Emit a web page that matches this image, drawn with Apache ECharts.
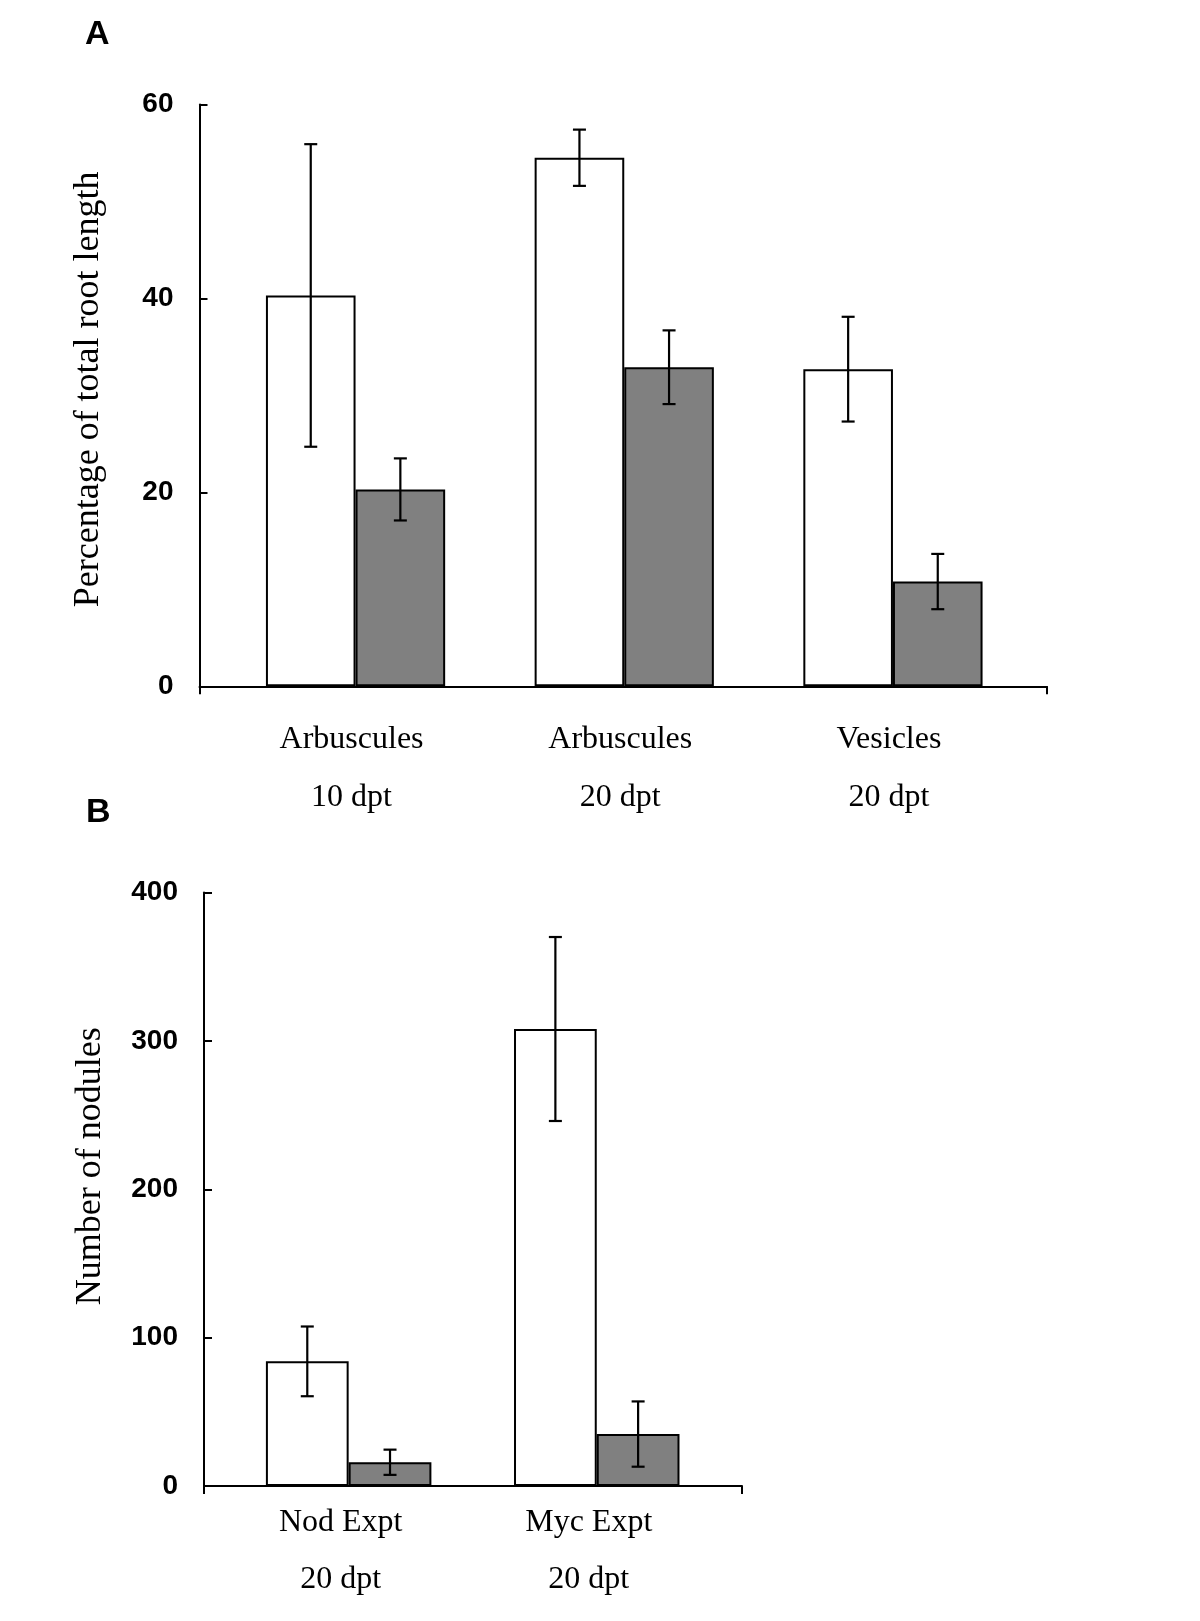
<!DOCTYPE html>
<html><head><meta charset="utf-8">
<script src="https://cdn.jsdelivr.net/npm/echarts@6/dist/echarts.min.js"></script>
<style>html,body{margin:0;padding:0;background:#fff}#c{width:1200px;height:1621px}</style>
</head><body><div id="c"></div>
<script>
// Panel A data
const catA = ['Arbuscules\n10 dpt', 'Arbuscules\n20 dpt', 'Vesicles\n20 dpt'];
const whiteA = [40.3, 54.5, 32.7];
const whiteAErr = [15.6, 2.9, 5.4];
const grayA = [20.3, 32.9, 10.8];
const grayAErr = [3.2, 3.8, 2.85];
const yTicksA = { min: 0, max: 60, interval: 20 };
// Panel B data
const catB = ['Nod Expt\n20 dpt', 'Myc Expt\n20 dpt'];
const whiteB = [84, 308];
const whiteBErr = [23.5, 62];
const grayB = [16, 35];
const grayBErr = [8.5, 22];
const yTicksB = { min: 0, max: 400, interval: 100 };

const GAP = 0.333;
const SANS = 'Liberation Sans, Arial, sans-serif';
const SERIF = 'Liberation Serif, Times New Roman, serif';

function errRender(side) {
  return function (params, api) {
    const ci = api.value(0), v = api.value(1), e = api.value(2);
    const band = api.size([1, 0])[0];
    const bw = band * (1 - GAP) / 2;
    const c = api.coord([ci, v]);
    const x = c[0] + side * bw / 2;
    const top = api.coord([ci, v + e])[1];
    const bot = api.coord([ci, v - e])[1];
    const h = 6.5;
    const st = { stroke: '#000', lineWidth: 2.2 };
    return { type: 'group', children: [
      { type: 'line', shape: { x1: x, y1: top, x2: x, y2: bot }, style: st },
      { type: 'line', shape: { x1: x - h, y1: top, x2: x + h, y2: top }, style: st },
      { type: 'line', shape: { x1: x - h, y1: bot, x2: x + h, y2: bot }, style: st }
    ] };
  };
}
function errData(vals, errs) { return vals.map((v, i) => [i, v, errs[i]]); }

const axisLineStyle = { color: '#000', width: 2 };

function wideAxes(gi, ticks, name, nameGap, namePad) {
  return {
    x: { type: 'value', gridIndex: gi, min: 0, max: 1, interval: 1,
      axisLine: { show: true, lineStyle: axisLineStyle },
      axisTick: { show: true, inside: false, length: 8, lineStyle: axisLineStyle },
      axisLabel: { show: false }, splitLine: { show: false } },
    y: { type: 'value', gridIndex: gi, min: ticks.min, max: ticks.max, interval: ticks.interval,
      axisLine: { show: true, lineStyle: axisLineStyle },
      axisTick: { show: true, inside: true, length: 8, lineStyle: axisLineStyle },
      axisLabel: { color: '#000', fontFamily: SANS, fontWeight: 'bold', fontSize: 28, margin: 26 },
      splitLine: { show: false },
      name: name, nameLocation: 'middle', nameGap: nameGap,
      nameTextStyle: { color: '#000', fontFamily: SERIF, fontSize: 36, padding: namePad } }
  };
}
function narrowAxes(gi, cats, ticks, lh, margin, pad) {
  return {
    x: { type: 'category', gridIndex: gi, data: cats,
      axisLine: { show: false }, axisTick: { show: false },
      axisLabel: { color: '#000', fontFamily: SERIF, fontSize: 32, lineHeight: lh, margin: margin, interval: 0, padding: pad } },
    y: { type: 'value', gridIndex: gi, min: ticks.min, max: ticks.max, interval: ticks.interval, show: false }
  };
}

const wA = wideAxes(0, yTicksA, 'Percentage of total root length', 93, [0, 0, 0, 12]);
const nA = narrowAxes(1, catA, yTicksA, 58, 24, [0, 8, 0, 0]);
const wB = wideAxes(2, yTicksB, 'Number of nodules', 95, [0, 0, 0, 46]);
const nB = narrowAxes(3, catB, yTicksB, 57, 8, [0, 16, 0, 0]);

const barBorder = { borderColor: '#000', borderWidth: 2 };

const option = {
  animation: false,
  backgroundColor: '#fff',
  title: [
    { text: 'A', left: 85, top: 18, padding: 0, textStyle: { fontFamily: SANS, fontWeight: 'bold', fontSize: 34, color: '#000' } },
    { text: 'B', left: 86, top: 796, padding: 0, textStyle: { fontFamily: SANS, fontWeight: 'bold', fontSize: 34, color: '#000' } }
  ],
  grid: [
    { left: 199.5, top: 104.4, width: 847.5, height: 581.9 },
    { left: 221.2, top: 104.4, width: 806.1, height: 581.9 },
    { left: 204, top: 892.5, width: 538, height: 593.5 },
    { left: 224.6, top: 892.5, width: 496.2, height: 593.5 }
  ],
  xAxis: [wA.x, nA.x, wB.x, nB.x],
  yAxis: [wA.y, nA.y, wB.y, nB.y],
  series: [
    { type: 'bar', xAxisIndex: 1, yAxisIndex: 1, data: whiteA, barGap: 0, barCategoryGap: '33.3%',
      itemStyle: Object.assign({ color: '#ffffff' }, barBorder) },
    { type: 'bar', xAxisIndex: 1, yAxisIndex: 1, data: grayA, barGap: 0, barCategoryGap: '33.3%',
      itemStyle: Object.assign({ color: '#808080' }, barBorder) },
    { type: 'custom', xAxisIndex: 1, yAxisIndex: 1, data: errData(whiteA, whiteAErr), renderItem: errRender(-1), z: 10 },
    { type: 'custom', xAxisIndex: 1, yAxisIndex: 1, data: errData(grayA, grayAErr), renderItem: errRender(1), z: 10 },
    { type: 'bar', xAxisIndex: 3, yAxisIndex: 3, data: whiteB, barGap: 0, barCategoryGap: '33.3%',
      itemStyle: Object.assign({ color: '#ffffff' }, barBorder) },
    { type: 'bar', xAxisIndex: 3, yAxisIndex: 3, data: grayB, barGap: 0, barCategoryGap: '33.3%',
      itemStyle: Object.assign({ color: '#808080' }, barBorder) },
    { type: 'custom', xAxisIndex: 3, yAxisIndex: 3, data: errData(whiteB, whiteBErr), renderItem: errRender(-1), z: 10 },
    { type: 'custom', xAxisIndex: 3, yAxisIndex: 3, data: errData(grayB, grayBErr), renderItem: errRender(1), z: 10 }
  ]
};
const chart = echarts.init(document.getElementById('c'), null, { renderer: 'canvas' });
chart.setOption(option);
</script>
</body></html>
